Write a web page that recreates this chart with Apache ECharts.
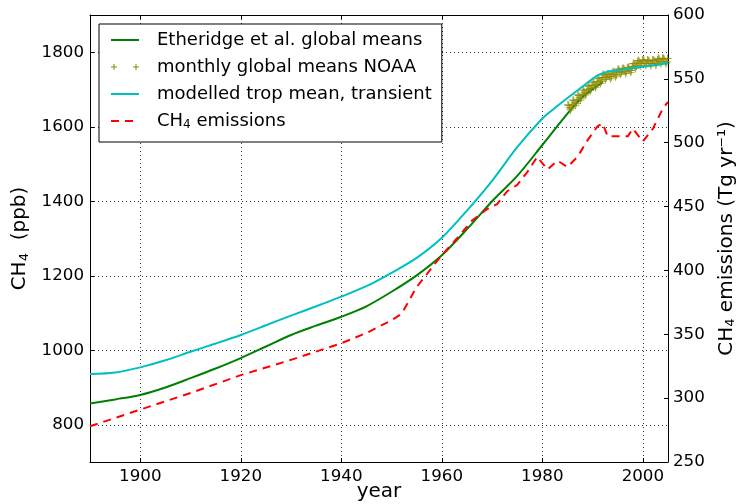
<!DOCTYPE html>
<html>
<head>
<meta charset="utf-8">
<script src="https://cdn.jsdelivr.net/npm/echarts@6/dist/echarts.min.js"></script>
<style>
  html, body { margin: 0; padding: 0; background: #fff; }
  #chart { width: 737px; height: 504px; }
</style>
</head>
<body>
<div id="chart"></div>
<script>
var xTicks = [1900, 1920, 1940, 1960, 1980, 2000];
var leftTicks = [800, 1000, 1200, 1400, 1600, 1800];

// Etheridge et al. global means (ppb)
var etheridgeYears = [1890, 1895, 1900, 1905, 1910, 1915, 1920, 1925, 1930, 1935, 1940, 1945, 1950, 1955, 1960, 1965, 1970, 1975, 1980, 1985, 1988, 1992];
var etheridgeCH4 = [857, 868, 880, 900, 925, 951, 979, 1010, 1041, 1066, 1090, 1118, 1157, 1201, 1255, 1325, 1400, 1468, 1551, 1635, 1680, 1720];

// modelled tropospheric mean, transient (ppb)
var modelYears = [1890, 1895, 1900, 1905, 1910, 1915, 1920, 1925, 1930, 1935, 1940, 1945, 1950, 1955, 1960, 1965, 1970, 1975, 1980, 1982, 1985, 1988, 1991, 1993, 1996, 2000, 2005];
var modelCH4 = [936, 940, 954, 973, 996, 1018, 1041, 1067, 1093, 1118, 1144, 1172, 1208, 1248, 1302, 1375, 1455, 1545, 1622, 1645, 1677, 1708, 1738, 1748, 1754, 1761, 1771];

// CH4 emissions (Tg/yr), right axis
var emisYears = [1890, 1900, 1910, 1920, 1930, 1940, 1945, 1950, 1952, 1955, 1958, 1960, 1963, 1966, 1969, 1971, 1973, 1975, 1977, 1979, 1981, 1983, 1985, 1987, 1989, 1991, 1992, 1993, 1995, 1997, 1998, 2000, 2002, 2004, 2005];
var emisValues = [278, 291, 304, 318, 330, 343, 351, 361, 366, 387, 402, 412, 425, 439, 448, 452, 462, 467, 477, 489, 479, 486, 481, 489, 502, 513, 515, 505, 505, 505, 511, 501, 511, 527, 532];

// NOAA monthly global means, every second month from 1985
var noaaStart = 1985.08;
var noaaStep = 1 / 6;
var noaaCH4 = [
  1659, 1657, 1651, 1645, 1650, 1660,
  1672, 1670, 1664, 1658, 1663, 1673,
  1686, 1684, 1678, 1672, 1677, 1687,
  1699, 1697, 1691, 1685, 1690, 1700,
  1711, 1709, 1703, 1697, 1702, 1712,
  1720, 1718, 1712, 1706, 1711, 1721,
  1731, 1729, 1723, 1717, 1722, 1732,
  1741, 1739, 1733, 1727, 1732, 1741,
  1742, 1740, 1735, 1729, 1734, 1744,
  1748, 1746, 1740, 1734, 1739, 1749,
  1755, 1753, 1747, 1741, 1746, 1755,
  1757, 1755, 1749, 1743, 1748, 1758,
  1760, 1758, 1752, 1746, 1751, 1762,
  1770, 1769, 1763, 1757, 1763, 1774,
  1778, 1776, 1770, 1764, 1769, 1779,
  1779, 1777, 1771, 1765, 1770, 1779,
  1778, 1776, 1770, 1764, 1769, 1778,
  1779, 1777, 1771, 1765, 1770, 1780,
  1783, 1781, 1775, 1769, 1774, 1784,
  1783, 1781, 1775, 1769, 1774, 1783,
  1781, 1779
];

function pairs(xs, ys) {
  return xs.map(function (x, i) { return [x, ys[i]]; });
}
var noaaData = noaaCH4.map(function (v, i) { return [noaaStart + i * noaaStep, v]; });

var font = 'DejaVu Sans';
var plain = function (v) { return String(v); };
var plusPath = 'path://M4.4,0H5.6V4.4H10V5.6H5.6V10H4.4V5.6H0V4.4H4.4Z';
var plusLegend = 'path://M0,0h0.01v0.01h-0.01Z M28,14h-0.01v-0.01h0.01Z ' +
  'M2.5,4H3.5V6.5H6V7.5H3.5V10H2.5V7.5H0V6.5H2.5Z M24.5,4H25.5V6.5H28V7.5H25.5V10H24.5V7.5H22V6.5H24.5Z';
var gridLine = { show: true, lineStyle: { color: '#333', type: [1, 3], width: 1 } };
var subRich = function (size) {
  return { sub: { fontFamily: font, fontSize: size, color: '#000', padding: [Math.round(size * 0.6), 0, 0, 0] } };
};

var option = {
  backgroundColor: '#fff',
  animation: false,
  textStyle: { fontFamily: font },
  grid: { left: 90, right: 69, top: 15, bottom: 42, containLabel: false, outerBoundsMode: 'none' },
  legend: {
    orient: 'vertical',
    left: 99,
    top: 24,
    padding: [6, 10, 11, 11],
    borderColor: '#000',
    borderWidth: 1,
    backgroundColor: '#fff',
    itemWidth: 28,
    itemHeight: 14,
    itemGap: 7,
    itemStyle: { opacity: 0 },
    formatter: function (name) {
      return name === 'CH4 emissions' ? 'CH{sub|4} emissions' : name;
    },
    textStyle: {
      fontFamily: font, fontSize: 18, color: '#000', lineHeight: 20, padding: [0, 0, 0, 13],
      rich: subRich(12)
    },
    data: [
      { name: 'Etheridge et al. global means' },
      { name: 'monthly global means NOAA', icon: plusLegend, itemStyle: { opacity: 1 } },
      { name: 'modelled trop mean, transient' },
      { name: 'CH4 emissions' }
    ]
  },
  xAxis: [{
    type: 'value',
    min: 1890,
    max: 2005,
    name: 'year',
    nameLocation: 'middle',
    nameGap: 20,
    nameMoveOverlap: false,
    nameTextStyle: { fontFamily: font, fontSize: 20, color: '#000' },
    axisLine: { lineStyle: { color: '#000', width: 1 } },
    axisTick: { inside: true, length: 4, customValues: xTicks, lineStyle: { color: '#000' } },
    axisLabel: { customValues: xTicks, formatter: plain, fontFamily: font, fontSize: 16.7, color: '#000', margin: 6 },
    splitLine: gridLine
  }, {
    type: 'value',
    position: 'top',
    min: 1890,
    max: 2005,
    axisLine: { lineStyle: { color: '#000', width: 1 } },
    axisTick: { inside: true, length: 4, customValues: xTicks, lineStyle: { color: '#000' } },
    axisLabel: { show: false },
    splitLine: { show: false }
  }],
  yAxis: [{
    type: 'value',
    min: 700,
    max: 1900,
    name: 'CH{sub|4}  (ppb)',
    nameLocation: 'middle',
    nameRotate: 90,
    nameGap: 54,
    nameTextStyle: { fontFamily: font, fontSize: 20, color: '#000', rich: subRich(13) },
    axisLine: { show: true, lineStyle: { color: '#000', width: 1 } },
    axisTick: { show: true, inside: true, length: 4, customValues: leftTicks, lineStyle: { color: '#000' } },
    axisLabel: { customValues: leftTicks, formatter: plain, fontFamily: font, fontSize: 16.7, color: '#000', margin: 6 },
    splitLine: gridLine
  }, {
    type: 'value',
    position: 'right',
    min: 250,
    max: 600,
    interval: 50,
    name: 'CH{sub|4} emissions (Tg yr⁻¹)',
    nameLocation: 'middle',
    nameRotate: 90,
    nameGap: 48,
    nameTextStyle: { fontFamily: font, fontSize: 20, color: '#000', rich: subRich(13) },
    axisLine: { show: true, lineStyle: { color: '#000', width: 1 } },
    axisTick: { show: true, inside: true, length: 4, lineStyle: { color: '#000' } },
    axisLabel: { formatter: plain, fontFamily: font, fontSize: 16.7, color: '#000', margin: 5 },
    splitLine: { show: false }
  }],
  series: [{
    name: 'Etheridge et al. global means',
    type: 'line',
    data: pairs(etheridgeYears, etheridgeCH4),
    smooth: 0.3,
    symbol: 'none',
    lineStyle: { color: '#008000', width: 2 },
    itemStyle: { color: '#008000' },
    z: 2
  }, {
    name: 'monthly global means NOAA',
    type: 'scatter',
    data: noaaData,
    symbol: plusPath,
    symbolSize: 8,
    itemStyle: { color: '#8a8a00' },
    z: 3
  }, {
    name: 'modelled trop mean, transient',
    type: 'line',
    data: pairs(modelYears, modelCH4),
    smooth: 0.3,
    symbol: 'none',
    lineStyle: { color: '#00bfbf', width: 2 },
    itemStyle: { color: '#00bfbf' },
    z: 4
  }, {
    name: 'CH4 emissions',
    type: 'line',
    yAxisIndex: 1,
    data: pairs(emisYears, emisValues),
    symbol: 'none',
    lineStyle: { color: '#ff0000', width: 2, type: [8, 6] },
    itemStyle: { color: '#ff0000' },
    z: 5
  }]
};

var chart = echarts.init(document.getElementById('chart'));
chart.setOption(option);
</script>
</body>
</html>
